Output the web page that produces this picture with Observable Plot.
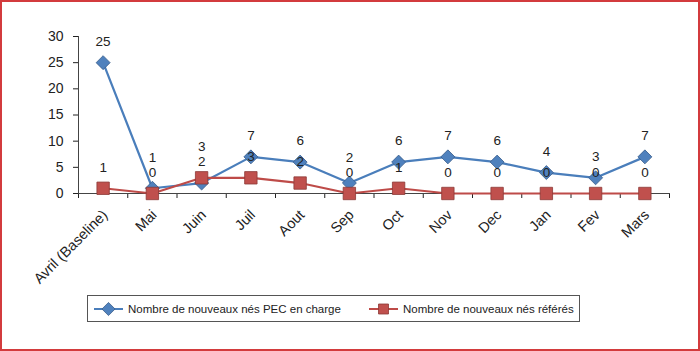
<!DOCTYPE html>
<html>
<head>
<meta charset="utf-8">
<script src="https://cdn.jsdelivr.net/npm/d3@7"></script>
<script src="https://cdn.jsdelivr.net/npm/@observablehq/plot@0.6"></script>
<style>
  body { margin: 0; background: #fff; font-family: "Liberation Sans", Arial, sans-serif; }
  #wrap { position: relative; width: 700px; height: 351px; overflow: hidden; background: #fff; }
  #border { position: absolute; left: 0; top: 0; width: 700px; height: 351px; box-sizing: border-box; border: 2px solid #d33b3d; pointer-events: none; }
  #legend { position: absolute; left: 87px; top: 295px; width: 493px; height: 27px; box-sizing: border-box; border: 1px solid #555; font-size: 11.5px; color: #222; }
  .item { display: flex; align-items: center; position: absolute; top: 0; height: 25px; white-space: nowrap; }
  .item svg { margin-right: 4px; }
</style>
</head>
<body>
<div id="wrap">
  <div id="chart"></div>
  <div id="legend"></div>
  <div id="border"></div>
</div>
<script>
const categories = ["Avril (Baseline)", "Mai", "Juin", "Juil", "Aout", "Sep", "Oct", "Nov", "Dec", "Jan", "Fev", "Mars"];
const priseEnCharge = [25, 1, 2, 7, 6, 2, 6, 7, 6, 4, 3, 7];
const referes = [1, 0, 3, 3, 2, 0, 1, 0, 0, 0, 0, 0];
const yTicks = [0, 5, 10, 15, 20, 25, 30];
const seriesNames = ["Nombre de nouveaux nés PEC en charge", "Nombre de nouveaux nés référés"];

const blue = "#4a7ebb", blueFill = "#4f81bd", blueStroke = "#385d8a";
const red = "#be4b48", redFill = "#c0504d", redStroke = "#8c3836";

const W = 700, H = 290, mL = 78, mR = 31, mT = 36, mB = 97;
const yMax = 30;
const pxPerUnit = (H - mT - mB) / yMax;

// Label placement: 21px above each point; when the two labels of one month collide,
// the upper one is pushed up so they stay readable.
const baseOff = 21, minGap = 15;
const labA = [], labB = [];
categories.forEach((c, i) => {
  let a = priseEnCharge[i] * pxPerUnit + baseOff; // px above baseline
  let b = referes[i] * pxPerUnit + baseOff;
  if (Math.abs(a - b) < minGap) {
    if (a >= b) a = b + minGap; else b = a + minGap;
  }
  labA.push({i, v: priseEnCharge[i], ly: a / pxPerUnit});
  labB.push({i, v: referes[i], ly: b / pxPerUnit});
});

const dataA = categories.map((c, i) => ({i, c, v: priseEnCharge[i]}));
const dataB = categories.map((c, i) => ({i, c, v: referes[i]}));
const boundaries = d3.range(categories.length + 1).map(i => i - 0.5);

const chart = Plot.plot({
  width: W,
  height: H,
  marginLeft: mL,
  marginRight: mR,
  marginTop: mT,
  marginBottom: mB,
  style: {fontFamily: "'Liberation Sans', Arial, sans-serif", color: "#222", background: "transparent", overflow: "visible"},
  x: {type: "linear", domain: [-0.5, categories.length - 0.5]},
  y: {domain: [0, yMax], clamp: false},
  marks: [
    Plot.axisY({ticks: yTicks, tickSize: 5, tickPadding: 10, fontSize: 14, label: null}),
    Plot.axisX({ticks: boundaries, tickSize: 5, tickFormat: () => "", label: null}),
    Plot.axisX({ticks: d3.range(categories.length), tickSize: 0, tickPadding: 19, dx: 2, tickRotate: -45, fontSize: 14.5, tickFormat: i => categories[i], label: null}),
    Plot.frame({anchor: "left", stroke: "#444"}),
    Plot.frame({anchor: "bottom", stroke: "#444"}),
    Plot.line(dataA, {x: "i", y: "v", stroke: blue, strokeWidth: 2.2}),
    Plot.dot(dataA, {x: "i", y: "v", symbol: "diamond2", r: 6.3, fill: blueFill, stroke: blueStroke, strokeWidth: 0.8}),
    Plot.line(dataB, {x: "i", y: "v", stroke: red, strokeWidth: 2.2}),
    Plot.dot(dataB, {x: "i", y: "v", symbol: "square", r: 7, fill: redFill, stroke: redStroke, strokeWidth: 0.8}),
    Plot.text(labA, {x: "i", y: "ly", text: d => String(d.v), fontSize: 13.5, fill: "#222"}),
    Plot.text(labB, {x: "i", y: "ly", text: d => String(d.v), fontSize: 13.5, fill: "#222"})
  ]
});
document.getElementById("chart").appendChild(chart);

// Legend
const legend = document.getElementById("legend");
const items = [
  {name: seriesNames[0], line: blue, fill: blueFill, stroke: blueStroke, symbol: d3.symbolDiamond2, size: 110, left: 5},
  {name: seriesNames[1], line: red, fill: redFill, stroke: redStroke, symbol: d3.symbolSquare, size: 100, left: 280}
];
for (const it of items) {
  const div = document.createElement("div");
  div.className = "item";
  div.style.left = it.left + "px";
  const sw = d3.create("svg").attr("width", 31).attr("height", 16);
  sw.append("line").attr("x1", 1).attr("x2", 30).attr("y1", 8).attr("y2", 8).attr("stroke", it.line).attr("stroke-width", 2);
  sw.append("path").attr("d", d3.symbol(it.symbol, it.size)()).attr("transform", "translate(15.5,8)")
    .attr("fill", it.fill).attr("stroke", it.stroke).attr("stroke-width", 0.8);
  div.appendChild(sw.node());
  const span = document.createElement("span");
  span.textContent = it.name;
  div.appendChild(span);
  legend.appendChild(div);
}
</script>
</body>
</html>
